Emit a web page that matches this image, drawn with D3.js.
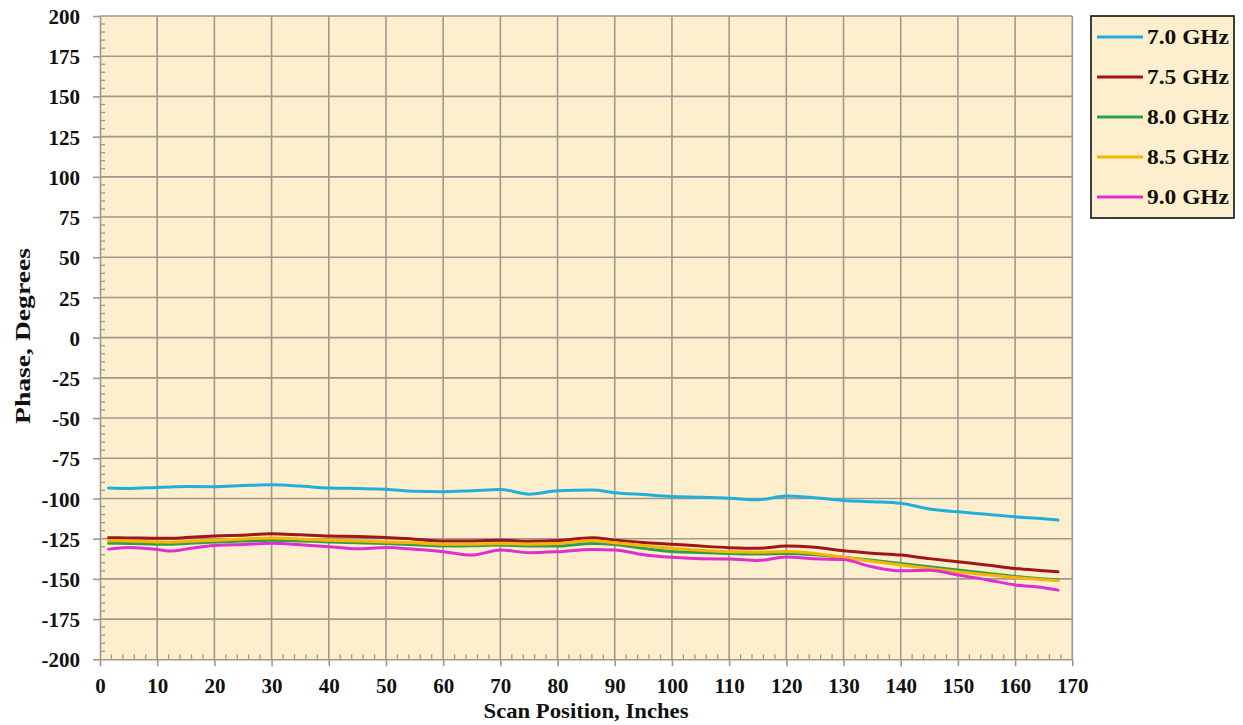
<!DOCTYPE html>
<html>
<head>
<meta charset="utf-8">
<script src="https://cdn.jsdelivr.net/npm/d3@7"></script>
<style>
  html, body { margin: 0; padding: 0; background: #ffffff; }
  svg { display: block; }
  text { font-family: "Liberation Serif", "Times New Roman", serif; font-weight: bold; fill: #111; }
</style>
</head>
<body>
<svg id="chart" width="1243" height="725"></svg>
<script>
// Scan positions (inches) at which phase was sampled
const scanPositions = [1.5, 5, 10, 12.5, 15, 20, 25, 30, 35, 40, 45, 50, 55, 60, 65, 70, 75, 80, 86, 90,
  95, 100, 105, 110, 115, 120, 125, 130, 135, 140, 145, 150, 155, 160, 165, 167.5];

// Phase (degrees) per frequency
const phase70 = [-93.5, -93.8, -93.1, -92.8, -92.6, -92.7, -92.0, -91.5, -92.3, -93.5, -93.8, -94.2, -95.5, -95.8, -95.2, -94.4, -97.3, -95.2, -94.8, -96.4,
  -97.6, -98.8, -99.2, -99.8, -100.8, -98.5, -99.6, -101.2, -102.0, -103.0, -106.5, -108.3, -109.8, -111.4, -112.6, -113.4];
const phase75 = [-124.4, -124.5, -124.8, -124.8, -124.3, -123.4, -122.8, -121.9, -122.6, -123.4, -123.6, -124.2, -125.3, -126.4, -126.4, -125.9, -126.6, -126.2, -124.4, -125.9,
  -127.4, -128.4, -129.6, -130.6, -131.0, -129.6, -130.4, -132.5, -134.0, -135.2, -137.4, -139.4, -141.3, -143.5, -144.9, -145.6];
const phase80 = [-127.8, -128.0, -128.4, -128.5, -128.0, -127.0, -126.5, -125.9, -126.4, -127.0, -127.5, -128.0, -128.7, -129.6, -129.4, -129.0, -129.6, -129.6, -128.0, -128.6,
  -131.0, -133.0, -133.6, -134.2, -134.6, -134.2, -135.0, -136.6, -138.4, -140.4, -142.5, -144.5, -146.5, -148.5, -150.0, -150.6];
const phase85 = [-126.3, -126.5, -127.0, -127.2, -126.8, -126.0, -125.2, -124.5, -125.3, -126.0, -126.4, -127.0, -127.6, -128.4, -128.4, -128.0, -128.4, -128.0, -126.3, -127.5,
  -129.4, -131.0, -132.2, -133.1, -133.4, -133.0, -134.2, -136.6, -139.0, -141.4, -143.6, -145.6, -147.4, -149.1, -150.5, -151.2];
const phase90 = [-131.5, -130.5, -131.7, -132.7, -131.5, -129.2, -128.6, -127.8, -128.8, -130.0, -131.3, -130.5, -131.6, -133.1, -135.2, -132.1, -133.7, -133.1, -131.7, -132.0,
  -135.0, -136.6, -137.5, -137.6, -138.6, -136.4, -137.5, -138.0, -142.5, -145.0, -144.6, -147.6, -150.5, -153.8, -155.5, -157.0];

const seriesNames = ["7.0 GHz", "7.5 GHz", "8.0 GHz", "8.5 GHz", "9.0 GHz"];
const seriesValues = [phase70, phase75, phase80, phase85, phase90];
const seriesColors = ["#22aedb", "#a01515", "#2e9e4e", "#f7b500", "#df2fd0"];

const xTicks = d3.range(0, 171, 10);
const yTicks = d3.range(-200, 201, 25);

const svg = d3.select("#chart");
const plot = { left: 100, right: 1072.3, top: 16, bottom: 659.3 };

const x = d3.scaleLinear().domain([0, 170]).range([plot.left, plot.right]);
const y = d3.scaleLinear().domain([-200, 200]).range([plot.bottom, plot.top]);

const gridColor = "#9f998d";
const fmt = d => String(d);   // plain hyphen for negatives

// Plot background
svg.append("rect")
  .attr("x", plot.left).attr("y", plot.top)
  .attr("width", plot.right - plot.left).attr("height", plot.bottom - plot.top)
  .attr("fill", "#fdefcd");

// Grid lines
svg.append("g").selectAll("line").data(xTicks.slice(1)).join("line")
  .attr("x1", d => x(d)).attr("x2", d => x(d))
  .attr("y1", plot.top).attr("y2", plot.bottom)
  .attr("stroke", gridColor).attr("stroke-width", 1.6);
svg.append("g").selectAll("line").data(yTicks.slice(1)).join("line")
  .attr("x1", plot.left).attr("x2", plot.right)
  .attr("y1", d => y(d)).attr("y2", d => y(d))
  .attr("stroke", gridColor).attr("stroke-width", 1.6);

// Minor ticks inside the plot
const xMinor = d3.range(0, 170, 2).filter(v => v % 10 !== 0);
const yMinor = d3.range(-200, 200, 5).filter(v => v % 25 !== 0);
svg.append("g").selectAll("line").data(xMinor).join("line")
  .attr("x1", d => x(d)).attr("x2", d => x(d))
  .attr("y1", plot.bottom).attr("y2", plot.bottom - 5)
  .attr("stroke", gridColor).attr("stroke-width", 1.3);
svg.append("g").selectAll("line").data(yMinor).join("line")
  .attr("x1", plot.left).attr("x2", plot.left + 5)
  .attr("y1", d => y(d)).attr("y2", d => y(d))
  .attr("stroke", gridColor).attr("stroke-width", 1.3);

// Axes
const xAxis = svg.append("g")
  .attr("transform", `translate(0,${plot.bottom})`)
  .call(d3.axisBottom(x).tickValues(xTicks).tickFormat(fmt).tickSize(7).tickSizeOuter(0).tickPadding(12));
const yAxis = svg.append("g")
  .attr("transform", `translate(${plot.left},0)`)
  .call(d3.axisLeft(y).tickValues(yTicks).tickFormat(fmt).tickSize(7).tickSizeOuter(0).tickPadding(13));
[xAxis, yAxis].forEach(g => {
  g.select(".domain").attr("stroke", gridColor).attr("stroke-width", 1.6);
  g.selectAll(".tick line").attr("stroke", gridColor).attr("stroke-width", 1.6);
  g.selectAll(".tick text")
    .style("font-family", "'Liberation Serif', 'Times New Roman', serif")
    .style("font-weight", "bold").style("font-size", "21px").attr("fill", "#111");
});
yAxis.selectAll(".tick text").attr("dy", "0.36em");

// Data lines
const line = d3.line()
  .x((d, i) => x(scanPositions[i]))
  .y(d => y(d))
  .curve(d3.curveMonotoneX);

svg.append("g").selectAll("path").data(seriesValues).join("path")
  .attr("d", d => line(d))
  .attr("fill", "none")
  .attr("stroke", (d, i) => seriesColors[i])
  .attr("stroke-width", 3)
  .attr("stroke-linejoin", "round")
  .attr("stroke-linecap", "round");

// Axis titles
svg.append("text")
  .attr("x", 586).attr("y", 718)
  .attr("text-anchor", "middle").style("font-size", "21px")
  .attr("textLength", 205).attr("lengthAdjust", "spacingAndGlyphs")
  .text("Scan Position, Inches");
svg.append("text")
  .attr("transform", `translate(30,336) rotate(-90)`)
  .attr("text-anchor", "middle").style("font-size", "21px")
  .attr("textLength", 176).attr("lengthAdjust", "spacingAndGlyphs")
  .text("Phase, Degrees");

// Legend
const legend = svg.append("g");
legend.append("rect")
  .attr("x", 1091).attr("y", 16).attr("width", 143).attr("height", 202)
  .attr("fill", "#fdefcd").attr("stroke", "#111").attr("stroke-width", 1.6);
const items = legend.selectAll("g.item").data(seriesNames).join("g")
  .attr("class", "item")
  .attr("transform", (d, i) => `translate(0,${37 + i * 40})`);
items.append("line")
  .attr("x1", 1097).attr("x2", 1143)
  .attr("stroke", (d, i) => seriesColors[i]).attr("stroke-width", 3);
items.append("text")
  .attr("x", 1147).attr("dy", "0.36em")
  .style("font-size", "20px")
  .attr("textLength", 82).attr("lengthAdjust", "spacingAndGlyphs")
  .text(d => d);
</script>
</body>
</html>
